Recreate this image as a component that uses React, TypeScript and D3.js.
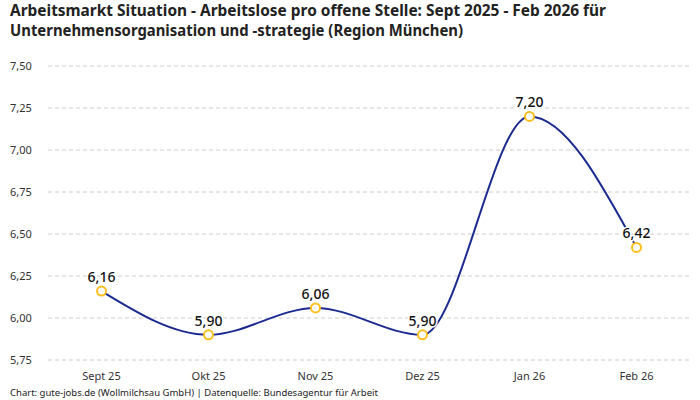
import React from "react";
import * as d3 from "d3";

const categories = ["Sept 25", "Okt 25", "Nov 25", "Dez 25", "Jan 26", "Feb 26"];
const values = [6.16, 5.9, 6.06, 5.9, 7.2, 6.42];
const yTicks = [5.75, 6.0, 6.25, 6.5, 6.75, 7.0, 7.25, 7.5];
const titleLines = [
  "Arbeitsmarkt Situation - Arbeitslose pro offene Stelle: Sept 2025 - Feb 2026 für",
  "Unternehmensorganisation und -strategie (Region München)",
];
const titleWidths = [596, 453];
const footer = "Chart: gute-jobs.de (Wollmilchsau GmbH) | Datenquelle: Bundesagentur für Arbeit";

const W = 700;
const H = 400;
const font = "'Noto Sans', 'DejaVu Sans', sans-serif";
const fmt = (v: number) => v.toFixed(2).replace(".", ",");

export default function App() {
  const x = d3.scalePoint<string>().domain(categories).range([48, 690]).padding(0.5);
  const y = d3.scaleLinear().domain([5.75, 7.5]).range([360, 66]);
  const line = d3
    .line<number>()
    .x((_, i) => x(categories[i]) as number)
    .y((d) => y(d))
    .curve(d3.curveMonotoneX);

  return (
    <svg
      width={W}
      height={H}
      style={{ position: "absolute", left: 0, top: 0, background: "#fff" }}
      fontFamily={font}
    >
      {titleLines.map((t, i) => (
        <text
          key={i}
          x={10}
          y={16 + i * 20}
          fontSize={15.5}
          fontWeight={700}
          fill="#222"
          textLength={titleWidths[i]}
          lengthAdjust="spacingAndGlyphs"
        >
          {t}
        </text>
      ))}
      {yTicks.map((t) => (
        <g key={t}>
          <line
            x1={48}
            x2={690}
            y1={y(t)}
            y2={y(t)}
            stroke="#cccccc"
            strokeDasharray="4,3"
            strokeWidth={1}
          />
          <text x={10} y={y(t)} dy="0.35em" fontSize={11} fill="#333">
            {fmt(t)}
          </text>
        </g>
      ))}
      {categories.map((c) => (
        <text key={c} x={x(c)} y={380} textAnchor="middle" fontSize={11} fill="#333">
          {c}
        </text>
      ))}
      <path d={line(values) || ""} fill="none" stroke="#1c2b8f" strokeWidth={2} />
      {values.map((v, i) => (
        <circle
          key={i}
          cx={x(categories[i])}
          cy={y(v)}
          r={4.5}
          fill="#fff"
          stroke="#fcbf1e"
          strokeWidth={2}
        />
      ))}
      {values.map((v, i) => (
        <text
          key={"l" + i}
          x={x(categories[i])}
          y={y(v) - 9}
          textAnchor="middle"
          fontSize={14}
          fontWeight={500}
          fill="#111"
          stroke="#fff"
          strokeWidth={3}
          paintOrder="stroke"
        >
          {fmt(v)}
        </text>
      ))}
      <text x={10} y={396} fontSize={9.5} fill="#222">
        {footer}
      </text>
    </svg>
  );
}
